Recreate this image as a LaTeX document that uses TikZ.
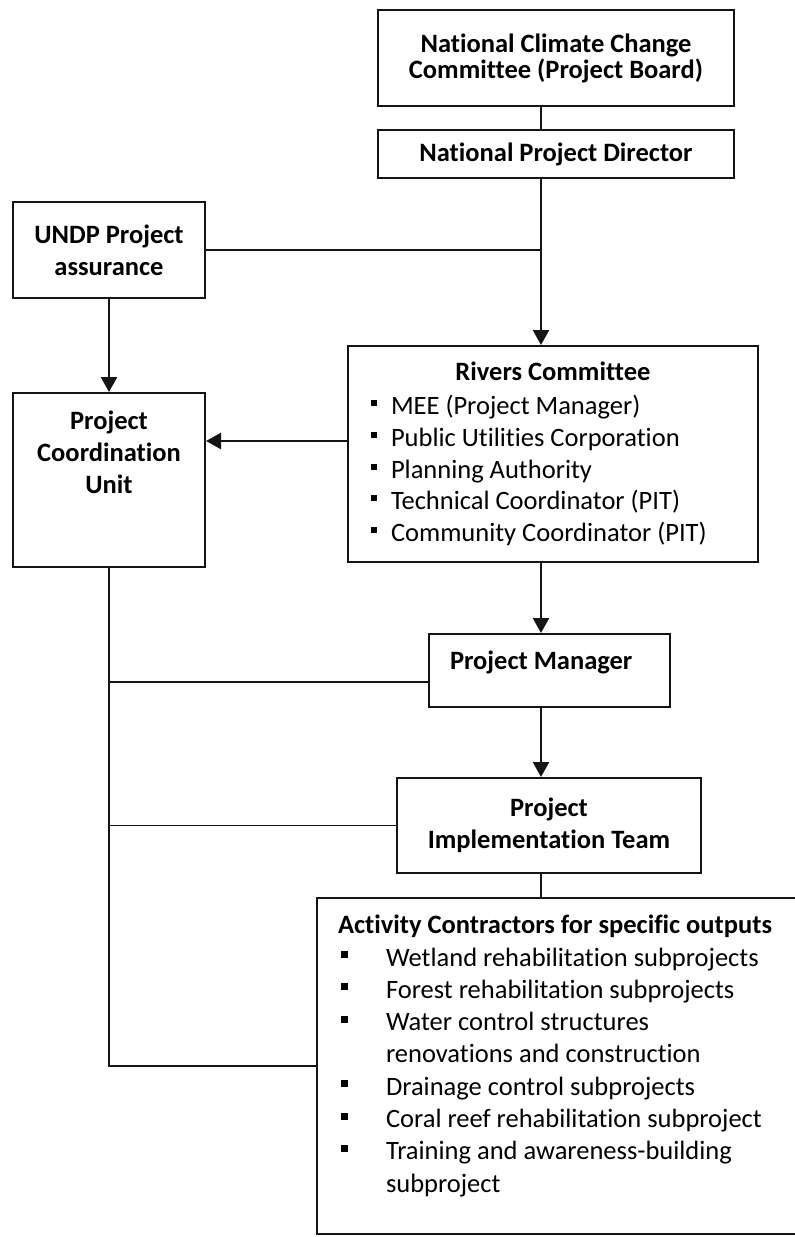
\documentclass[tikz,border=0pt]{standalone}
\usepackage{fontspec}
\setmainfont{Carlito}[RawFeature={-liga}]
\usetikzlibrary{arrows.meta, positioning, calc}
\definecolor{lineBlack}{gray}{0.08}

% square bullets of the two lists
\newcommand{\rbul}{\rule[8.5pt]{6pt}{6pt}}
\newcommand{\cbul}{\rule[8pt]{7pt}{7pt}}

\begin{document}
\begin{tikzpicture}[x=1pt, y=-1pt, >={Triangle[length=15pt, width=16pt]},
    box/.style={draw=lineBlack, line width=2pt, inner sep=0pt, anchor=north west, align=center,
      font=\fontsize{26.5}{32.3}\selectfont\bfseries},
    link/.style={draw=lineBlack, line width=1.8pt},
    arr/.style={link, line width=2.4pt, ->}]
    \useasboundingbox (0,0) rectangle (795,1237);
    \coordinate (midx) at (541,0);

    % boxes
    \node[box, minimum width=356pt, minimum height=96pt, font=\fontsize{26.5}{26}\selectfont\bfseries]
        (nccc) at (377,9) {National Climate Change\\Committee (Project Board)};
    \node[box, minimum width=356pt, minimum height=48pt] (npd) at (377,129) {National Project Director};
    \node[box, minimum width=192pt, minimum height=96pt] (undp) at (12,201) {UNDP Project\\assurance};
    \node[box] (pcu) at (12,392)
        {\parbox[c][174pt][t]{192pt}{\centering\rule{0pt}{36pt}Project\\Coordination\\Unit}};
    \node[box, minimum width=410pt, minimum height=216pt, align=left, font=\fontsize{26.5}{31.7}\selectfont]
        (rivers) at (347,345) {\makebox[410pt]{\bfseries Rivers Committee}\\[2pt]
        \hspace*{23pt}\rbul\hspace{14pt}MEE (Project Manager)\\
        \hspace*{23pt}\rbul\hspace{14pt}Public Utilities Corporation\\
        \hspace*{23pt}\rbul\hspace{14pt}Planning Authority\\
        \hspace*{23pt}\rbul\hspace{14pt}Technical Coordinator (PIT)\\
        \hspace*{23pt}\rbul\hspace{14pt}Community Coordinator (PIT)};
    \node[box] (pm) at (428,633)
        {\parbox[c][73pt][t]{241pt}{\rule{0pt}{35pt}\hspace*{21pt}Project Manager}};
    \node[box, minimum width=304pt, minimum height=95pt] (pit) at (396,777) {Project\\Implementation Team};
    \node[box, font=\fontsize{26.5}{32.3}\selectfont] (contr) at (316,897)
        {\parbox[c][336pt][t]{482pt}{\raggedright
        \hspace*{21pt}\rule{0pt}{35pt}\textbf{Activity Contractors for specific outputs}\\[0.7pt]
        \hspace*{24pt}\cbul\hspace{38pt}Wetland rehabilitation subprojects\\
        \hspace*{24pt}\cbul\hspace{38pt}Forest rehabilitation subprojects\\
        \hspace*{24pt}\cbul\hspace{38pt}Water control structures\\
        \hspace*{69pt}renovations and construction\\
        \hspace*{24pt}\cbul\hspace{38pt}Drainage control subprojects\\
        \hspace*{24pt}\cbul\hspace{38pt}Coral reef rehabilitation subproject\\
        \hspace*{24pt}\cbul\hspace{38pt}Training and awareness-building\\
        \hspace*{69pt}subproject}};

    % connectors
    \draw[link] (nccc.south -| midx) -- (npd.north -| midx);
    \draw[arr] (npd.south -| midx) -- (rivers.north -| midx);
    \draw[link] (undp.east) -- (undp.east -| midx);
    \draw[arr] (undp) -- (pcu);
    \draw[arr] (rivers.west |- 0,441) -- (pcu.east |- 0,441);
    \draw[arr] (rivers.south -| midx) -- (pm.north -| midx);
    \draw[arr] (pm.south -| midx) -- (pit.north -| midx);
    \draw[link] (pit.south -| midx) -- (contr.north -| midx);
    \draw[link] (pcu.south) |- (contr.west);
    \draw[link] (pm.west |- 0,682) -- (pcu.south |- 0,682);
    \draw[link] (pit.west) -- (pit.west -| pcu.south);
\end{tikzpicture}
\end{document}
